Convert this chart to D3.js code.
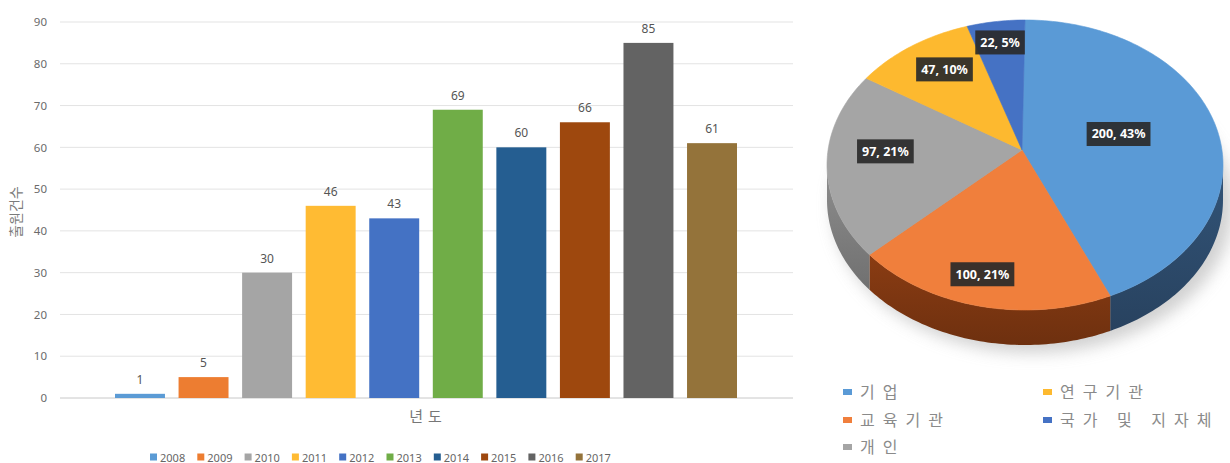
<!DOCTYPE html>
<html><head><meta charset="utf-8">
<script src="https://cdn.jsdelivr.net/npm/d3@7"></script>
<style>
html,body{margin:0;padding:0;background:#fff;}
svg{display:block;font-family:"Noto Sans","Noto Sans CJK KR",sans-serif;}
</style></head>
<body>
<svg id="c" width="1230" height="463"></svg>
<script>
// ---- data ----
const years = ["2008","2009","2010","2011","2012","2013","2014","2015","2016","2017"];
const counts = [1, 5, 30, 46, 43, 69, 60, 66, 85, 61];
const yTicks = [0,10,20,30,40,50,60,70,80,90];
const barColors = ["#5b9bd5","#ed7d31","#a5a5a5","#ffbb33","#4472c4","#70ad47","#255e91","#9e480e","#636363","#94733a"];
const yTitle = "출원건수";
const xTitle = "년도";

const orgs = ["기업","교육기관","개인","연구기관","국가 및 지자체"];
const orgCounts = [200, 100, 97, 47, 22];
const orgPct = ["43%","21%","21%","10%","5%"];
const pieColors = ["#5a9ad6","#f07f3c","#a5a5a5","#fdb92f","#4572c4"];
const rimColors = ["#2c4a6a","#7a3511","#7d7d7d","#a07010","#2a4478"];
const labelFrac = [0.5, 0.88, 0.69, 0.68, 0.75];

const svg = d3.select("#c");
const defs = svg.append("defs");

// ---- bar chart ----
const gridX0 = 60, gridX1 = 793;
const x = d3.scaleBand().domain(years).range([101.4, 750.6]).padding(0.214);
const y = d3.scaleLinear().domain([0, 90]).range([398, 22]);

const grid = svg.append("g");
grid.selectAll("line").data(yTicks).join("line")
  .attr("x1", gridX0).attr("x2", gridX1)
  .attr("y1", d => y(d)).attr("y2", d => y(d))
  .attr("stroke", d => d === 0 ? "#c8c8c8" : "#e3e3e3").attr("stroke-width", 1);

const yAxis = svg.append("g").attr("transform", `translate(${gridX0 - 13},0)`)
  .call(d3.axisLeft(y).tickValues(yTicks).tickSize(0).tickPadding(0));
yAxis.select(".domain").remove();
yAxis.selectAll("text").attr("fill", "#6b6b6b").attr("font-size", 11.5)
  .attr("font-family", "'Noto Sans',sans-serif");

svg.append("g").selectAll("rect").data(counts).join("rect")
  .attr("x", (d, i) => x(years[i])).attr("width", x.bandwidth())
  .attr("y", d => y(d)).attr("height", d => y(0) - y(d))
  .attr("fill", (d, i) => barColors[i]);

svg.append("g").selectAll("text").data(counts).join("text")
  .attr("x", (d, i) => x(years[i]) + x.bandwidth() / 2)
  .attr("y", d => y(d) - 10)
  .attr("text-anchor", "middle").attr("font-size", 12).attr("fill", "#555")
  .text(d => d);

svg.append("text").attr("transform", "translate(21,212) rotate(-90)")
  .attr("text-anchor", "middle").attr("font-size", 14).attr("fill", "#7a7a7a")
  .attr("font-family", "'Noto Sans CJK KR',sans-serif").text(yTitle);

svg.append("text").attr("x", 428).attr("y", 422).attr("text-anchor", "middle")
  .attr("font-size", 15).attr("fill", "#777").attr("letter-spacing", 5)
  .attr("font-family", "'Noto Sans CJK KR',sans-serif").text(xTitle);

// bar legend
const lg = svg.append("g");
const legStep = 47.3, legX0 = 150;
const li = lg.selectAll("g").data(years).join("g")
  .attr("transform", (d, i) => `translate(${legX0 + i * legStep},457)`);
li.append("rect").attr("x", 0).attr("y", -3.5).attr("width", 7).attr("height", 7)
  .attr("fill", (d, i) => barColors[i]);
li.append("text").attr("x", 10).attr("y", 4.5).attr("font-size", 11)
  .attr("fill", "#666").text(d => d);

// ---- 3D pie ----
const cx = 1025, cy = 165, rx = 198, ry = 145, depth = 35;
const apex = [1022, 150];
const pt = (a, dy = 0) => [cx + rx * Math.sin(a), cy - ry * Math.cos(a) + dy];
const arcs = d3.pie().sort(null).value(d => d)(orgCounts);

// shadow
const blur = defs.append("filter").attr("id", "sh").attr("x", "-20%").attr("y", "-20%")
  .attr("width", "140%").attr("height", "140%");
blur.append("feGaussianBlur").attr("stdDeviation", 8);
svg.append("ellipse").attr("cx", cx + 8).attr("cy", cy + depth + 6).attr("rx", rx + 2).attr("ry", ry + 2)
  .attr("fill", "#bdbdbd").attr("filter", "url(#sh)").attr("opacity", 0.7);

function sample(a1, a2, dy) {
  const n = Math.max(2, Math.ceil(Math.abs(a2 - a1) / 0.02));
  const pts = [];
  for (let k = 0; k <= n; k++) pts.push(pt(a1 + (a2 - a1) * k / n, dy));
  return pts;
}

// rim gradients
rimColors.forEach((c, i) => {
  const g = defs.append("linearGradient").attr("id", "rim" + i)
    .attr("x1", 0).attr("y1", 0).attr("x2", 0).attr("y2", 1);
  g.append("stop").attr("offset", "0%").attr("stop-color", d3.color(c).brighter(0.35));
  g.append("stop").attr("offset", "100%").attr("stop-color", d3.color(c).darker(0.3));
});

const sides = svg.append("g");
arcs.forEach((a, i) => {
  const s = Math.max(a.startAngle, Math.PI / 2), e = Math.min(a.endAngle, 3 * Math.PI / 2);
  if (e <= s) return;
  const top = sample(s, e, 0), bot = sample(e, s, depth);
  sides.append("path").attr("d", "M" + top.concat(bot).map(p => p.join(",")).join("L") + "Z")
    .attr("fill", `url(#rim${i})`);
});

const tops = svg.append("g");
arcs.forEach((a, i) => {
  const edge = sample(a.startAngle, a.endAngle, 0);
  tops.append("path").attr("d", "M" + apex.join(",") + "L" + edge.map(p => p.join(",")).join("L") + "Z")
    .attr("fill", pieColors[i]).attr("stroke", pieColors[i]).attr("stroke-width", 0.6);
});

// labels
const lab = svg.append("g");
arcs.forEach((a, i) => {
  const m = (a.startAngle + a.endAngle) / 2, f = labelFrac[i];
  const lx = apex[0] + f * rx * Math.sin(m), ly = apex[1] - f * ry * Math.cos(m);
  const g = lab.append("g").attr("transform", `translate(${lx},${ly})`);
  const r = g.append("rect").attr("fill", "#2a2a2a").attr("opacity", 0.92);
  const t = g.append("text").attr("text-anchor", "middle").attr("dy", "0.35em")
    .attr("font-size", 12.5).attr("font-weight", "bold").attr("fill", "#fff")
    .text(orgCounts[i] + ", " + orgPct[i]);
  const w = t.node().getComputedTextLength() + 10;
  r.attr("x", -w / 2).attr("y", -12).attr("width", w).attr("height", 24);
});

// pie legend
const pl = svg.append("g");
const legOrder = [[845,392],[845,420],[845,447],[1045,392],[1045,420]];
orgs.forEach((o, i) => {
  const [lx, ly] = legOrder[i];
  pl.append("rect").attr("x", lx - 2).attr("y", ly - 3).attr("width", 9).attr("height", 6)
    .attr("fill", pieColors[i]);
  pl.append("text").attr("x", lx + 15).attr("y", ly + 6).attr("font-size", 16)
    .attr("letter-spacing", 8).attr("fill", "#8a8a8a")
    .attr("font-family", "'Noto Sans CJK KR',sans-serif").text(o);
});
</script>
</body></html>
